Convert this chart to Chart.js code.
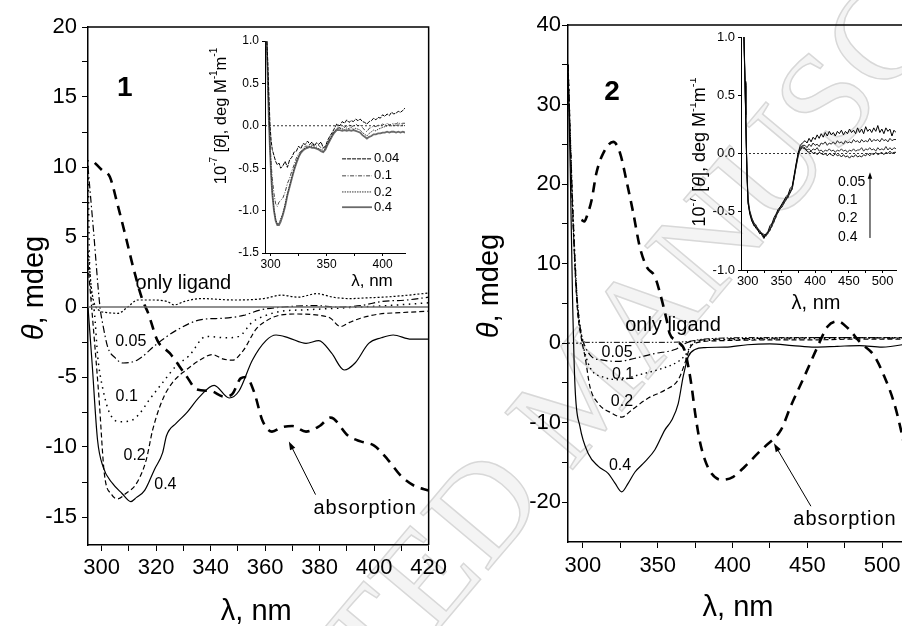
<!DOCTYPE html>
<html lang="en">
<head>
<meta charset="UTF-8">
<title>CD spectra of 1 and 2</title>
<script src="https://cdn.jsdelivr.net/npm/chart.js"></script>
<style>
  html, body { margin: 0; padding: 0; background: #fff; }
  #fig { position: relative; width: 902px; height: 626px; overflow: hidden; background: #fff; }
  #fig canvas { position: absolute; }
  .wm {
    position: absolute; left: 580px; top: 390px;
    font-family: "Liberation Serif", serif; font-size: 135px; white-space: nowrap;
    color: #f4f4f4; -webkit-text-stroke: 1.5px #d8d8d8;
    transform: translate(-50%, -50%) rotate(-50deg);
  }
</style>
</head>
<body>
<div id="fig">
  <div class="wm">ACCEPTED MANUSCRIPT</div>
  <canvas id="main1" width="451" height="626" style="left:0;top:0"></canvas>
  <canvas id="main2" width="466" height="626" style="left:451px;top:0"></canvas>
  <canvas id="ins1" width="230" height="280" style="left:190px;top:20px"></canvas>
  <canvas id="ins2" width="212" height="300" style="left:690px;top:15px"></canvas>
</div>
<script>
// ---------- panel 1 (complex 1) ----------
const p1XTicks = [300, 310, 320, 330, 340, 350, 360, 370, 380, 390, 400, 410, 420];
const p1XLabels = [300, 320, 340, 360, 380, 400, 420];
const p1YTicks = [-15, -12.5, -10, -7.5, -5, -2.5, 0, 2.5, 5, 7.5, 10, 12.5, 15, 17.5, 20];
const p1YLabels = [-15, -10, -5, 0, 5, 10, 15, 20];

const p1AbsX = [297.5, 300, 303, 306, 309, 311.5, 315, 317, 320.5, 325, 331, 335, 340, 345, 348, 351, 353, 356, 359, 362.5, 366, 370, 375, 380, 384, 390.5, 395, 400, 405, 410, 415, 420];
const p1AbsY = [10.3, 9.8, 9.3, 7.2, 4.9, 2.9, 0.5, -0.4, -2.4, -3.3, -4.9, -5.9, -6.0, -6.4, -6.2, -5.1, -5.0, -6.1, -8.1, -8.9, -8.6, -8.5, -8.9, -8.5, -7.9, -9.2, -9.6, -9.9, -10.9, -12.1, -12.8, -13.1];

const p1C04X = [295, 296.5, 298.5, 300.5, 304, 307.4, 310.7, 312.8, 315.8, 319.4, 322.4, 323.8, 327.4, 331, 336, 341.3, 346.8, 350.4, 355.3, 360.3, 364, 368.6, 375, 379.7, 384.4, 389, 393, 398, 402.6, 407, 413.6, 420];
const p1C04Y = [0.0, -4.0, -9.5, -11.4, -12.6, -13.3, -13.9, -13.6, -13.1, -11.6, -10.4, -9.2, -8.3, -7.6, -6.4, -5.6, -6.5, -6.0, -3.8, -2.4, -2.0, -2.2, -2.6, -2.4, -3.3, -4.5, -4.0, -2.6, -2.2, -2.0, -2.3, -2.3];

const p1C02X = [295, 296.5, 299, 301, 303.7, 306, 309, 312.8, 316.4, 318.7, 322.4, 326, 331, 336, 340.6, 344.4, 348, 352, 356.6, 360.3, 365, 372, 380, 384, 387.6, 391, 395, 402, 410, 420];
const p1C02Y = [3.0, -0.4, -6.4, -11.9, -13.4, -13.7, -13.3, -12.6, -10.9, -8.8, -6.6, -5.4, -4.5, -3.8, -3.4, -3.7, -3.8, -3.1, -1.6, -1.0, -0.6, -0.5, -0.6, -0.8, -1.4, -1.1, -0.8, -0.5, -0.4, -0.3];

const p1C01X = [295, 295.6, 297.3, 298.6, 300.5, 303, 306.7, 311, 314, 317.6, 322.4, 327.4, 332, 338.4, 345.7, 350.4, 355.2, 360.3, 366, 375, 385, 395, 405, 420];
const p1C01Y = [10.5, 3.0, -0.3, -3.6, -5.9, -7.6, -8.2, -8.1, -7.6, -6.6, -5.4, -4.2, -3.5, -2.1, -2.2, -2.1, -1.1, -0.6, -0.3, -0.2, -0.1, 0.0, 0.1, 0.3];

const p1C005X = [295, 297, 299.4, 300.5, 302.3, 304.8, 307.8, 313, 320.5, 328, 336.6, 345, 352, 358.5, 366.8, 379, 386, 395, 403, 412, 420];
const p1C005Y = [10.0, 5.5, 0.0, -1.3, -2.9, -3.6, -4.0, -3.8, -2.6, -1.6, -0.9, -0.8, -0.6, -0.2, 0.0, 0.1, 0.0, 0.1, 0.4, 0.5, 0.7];

const p1LigX = [295, 296.5, 298.8, 302, 306, 309.6, 313.2, 318.2, 324, 326.7, 330.4, 336.5, 348.6, 359.5, 366, 372, 379, 385, 391, 397, 403, 410, 420];
const p1LigY = [4.0, 1.0, -0.2, -0.4, -0.45, 0.0, 0.5, 0.5, 0.4, 0.15, 0.4, 0.6, 0.5, 0.6, 0.85, 0.7, 0.95, 0.7, 0.6, 0.65, 0.7, 0.8, 1.0];

const p1ZeroX = [295, 420];
const p1ZeroY = [0, 0];

// ---------- inset of panel 1 ----------
const ins1XTicks = [300, 325, 350, 375, 400];
const ins1XLabels = [300, 350, 400];
const ins1YTicks = [-1.5, -1, -0.5, 0, 0.5, 1];
const ins1Names = ['0.04', '0.1', '0.2', '0.4'];
const ins1X = [296.5, 297.5, 298.5, 299.5, 300.5, 301.5, 303, 304.5, 306, 307.5, 309, 311, 313, 315, 317, 319, 321, 323, 325, 327, 329, 331, 333, 335, 337, 339, 341, 343, 345, 347, 349, 351, 353, 355, 357, 359,
  362, 364, 366, 368, 370, 372, 374, 376, 378, 380, 382, 384, 386, 388, 390, 392, 394, 396, 398, 400, 402, 404, 406, 408, 410, 412, 414, 416, 418, 420];
const ins1Y004 = [1.05, 0.75, 0.35, 0.0, -0.18, -0.28, -0.35, -0.42, -0.46, -0.44, -0.5, -0.47, -0.42, -0.49, -0.4, -0.37, -0.31, -0.3, -0.24, -0.27, -0.21, -0.22, -0.18, -0.22, -0.19, -0.24, -0.2, -0.22, -0.19, -0.26, -0.24, -0.17, -0.12, -0.08, -0.03, 0.02,
  0.0, 0.05, 0.03, 0.07, 0.04, 0.06, 0.05, 0.08, 0.06, 0.08, 0.05, 0.04, 0.02, 0.05, 0.06, 0.09, 0.07, 0.1, 0.09, 0.13, 0.11, 0.14, 0.12, 0.16, 0.14, 0.15, 0.17, 0.16, 0.18, 0.21];
const ins1Y01 = [1.0, 0.6, 0.15, -0.2, -0.45, -0.62, -0.8, -0.92, -0.95, -0.9, -0.88, -0.85, -0.78, -0.68, -0.62, -0.53, -0.46, -0.38, -0.33, -0.3, -0.27, -0.24, -0.24, -0.22, -0.23, -0.22, -0.24, -0.23, -0.26, -0.28, -0.25, -0.2, -0.15, -0.1, -0.06, -0.03,
  -0.02, -0.03, 0.0, -0.02, 0.01, 0.0, -0.01, 0.02, 0.0, 0.01, -0.02, -0.05, -0.07, -0.03, -0.02, 0.0, -0.01, 0.01, 0.0, 0.02, 0.01, 0.03, 0.01, 0.02, 0.03, 0.02, 0.04, 0.02, 0.03, 0.03];
const ins1Y02 = [1.0, 0.55, 0.1, -0.25, -0.55, -0.78, -0.98, -1.1, -1.16, -1.15, -1.1, -1.03, -0.92, -0.8, -0.7, -0.6, -0.51, -0.42, -0.36, -0.31, -0.28, -0.26, -0.25, -0.24, -0.25, -0.25, -0.26, -0.27, -0.28, -0.3, -0.27, -0.21, -0.16, -0.11, -0.07, -0.04,
  -0.03, -0.04, -0.02, -0.04, -0.03, -0.02, -0.04, -0.03, -0.04, -0.05, -0.08, -0.1, -0.12, -0.09, -0.07, -0.05, -0.06, -0.04, -0.03, -0.02, -0.01, 0.0, 0.01, 0.0, 0.01, 0.0, 0.02, 0.0, 0.01, 0.0];
const ins1Y04 = [1.0, 0.5, 0.05, -0.3, -0.58, -0.8, -1.0, -1.12, -1.17, -1.17, -1.13, -1.05, -0.95, -0.82, -0.72, -0.62, -0.52, -0.44, -0.37, -0.32, -0.29, -0.27, -0.26, -0.25, -0.26, -0.26, -0.27, -0.28, -0.3, -0.31, -0.28, -0.22, -0.17, -0.12, -0.08, -0.05,
  -0.05, -0.06, -0.05, -0.06, -0.05, -0.06, -0.05, -0.06, -0.07, -0.08, -0.11, -0.13, -0.15, -0.13, -0.12, -0.1, -0.1, -0.09, -0.09, -0.08, -0.08, -0.07, -0.08, -0.07, -0.07, -0.08, -0.07, -0.08, -0.07, -0.08];

// ---------- panel 2 (complex 2) ----------
const p2XTicks = [300, 325, 350, 375, 400, 425, 450, 475, 500];
const p2XLabels = [300, 350, 400, 450, 500];
const p2YTicks = [-20, -15, -10, -5, 0, 5, 10, 15, 20, 25, 30, 35, 40];
const p2YLabels = [-20, -10, 0, 10, 20, 30, 40];

const p2AbsX = [299, 301, 302.5, 305.8, 309, 313.6, 320.3, 324.8, 329, 333.7, 338, 342.6, 348, 351.5, 356, 358, 362.5, 368, 370.5, 372.7, 375, 378, 381.6, 386, 392.7, 400.5, 408.3, 417.2, 421.7, 432.4, 439, 448, 457, 463.6, 470.3, 477, 485.8, 494.8, 501.5, 508, 512.6, 516];
const p2AbsY = [15.5, 15.3, 15.9, 18.0, 21.4, 23.9, 25.3, 23.9, 20.5, 16.3, 12.1, 9.6, 8.4, 6.3, 2.9, 1.2, 0.3, -0.9, -3.0, -5.5, -8.8, -12.2, -14.7, -16.4, -17.2, -16.8, -15.5, -13.8, -13.0, -10.9, -7.9, -4.2, -0.4, 2.1, 2.75, 1.9, 0.0, -1.6, -4.2, -7.5, -10.9, -14.0];

const p2C04X = [290, 291.5, 293, 294.7, 298, 303.6, 310.3, 317, 321.4, 325.9, 330.3, 334.8, 341.5, 348.1, 354.8, 359.3, 363.7, 367, 370.4, 374.9, 381.6, 395, 410, 425, 440, 455, 470, 485, 500, 520];
const p2C04Y = [35, 22, 6, -5.5, -10.5, -13.9, -15.5, -16.4, -17.6, -18.7, -17.6, -16.2, -14.9, -13.4, -10.9, -9.7, -7.6, -4.2, -1.7, -0.8, -0.55, -0.5, -0.2, -0.1, -0.3, -0.5, -0.4, -0.3, -0.5, 0.0];

const p2C02X = [290, 293, 296, 299, 301.4, 304.7, 310.3, 319.2, 325.9, 332.6, 343.7, 354.8, 363.7, 368.2, 371.5, 377, 390, 420, 450, 480, 520];
const p2C02Y = [35, 17, 5, 0.5, -1.7, -5.5, -7.6, -8.8, -9.3, -8.4, -6.9, -5.9, -4.6, -2.5, -0.6, 0.1, 0.3, 0.4, 0.4, 0.5, 0.5];

const p2C01X = [290, 293, 296, 299, 301.4, 305.8, 312.5, 324.8, 337, 352.6, 363.7, 369.3, 372.7, 380, 420, 460, 520];
const p2C01Y = [35, 18, 6, 1, -1.3, -3.4, -4.2, -4.6, -4.0, -3.2, -2.3, -1.3, -0.1, 0.3, 0.5, 0.6, 0.7];

const p2C005X = [290, 293, 296, 299, 301.4, 305.8, 312.5, 323.6, 334.8, 348, 361.5, 370, 380, 420, 470, 520];
const p2C005Y = [35, 18, 6, 1, -0.4, -1.7, -2.1, -2.3, -1.9, -1.3, -0.8, 0.1, 0.4, 0.6, 0.7, 0.6];

const p2LigX = [290, 293, 296, 299, 302, 320, 350, 370, 380, 420, 460, 520];
const p2LigY = [34, 17, 5, 1, 0.1, 0.1, 0.1, 0.2, 0.5, 0.7, 0.7, 0.7];

const p2ZeroX = [290, 301];
const p2ZeroY = [0, 0];

// ---------- inset of panel 2 ----------
const ins2XTicks = [300, 325, 350, 375, 400, 425, 450, 475, 500];
const ins2XLabels = [300, 350, 400, 450, 500];
const ins2YTicks = [-1, -0.5, 0, 0.5, 1];
const ins2Names = ['0.05', '0.1', '0.2', '0.4'];
const ins2X = [293, 294.5, 296, 297, 298, 299, 300.5, 303, 306, 309, 312, 315, 318, 321, 324, 327, 330, 333, 336, 339, 342, 345, 348, 351, 354, 357, 360, 363, 366, 369, 372, 375, 378, 381,
  385, 388, 391, 394, 397, 400, 403, 406, 409, 412, 415, 418, 421, 424, 427, 430, 433, 436, 439, 442, 445, 448, 451, 454, 457, 460, 463, 466, 469, 472, 475, 478, 481, 484, 487, 490, 493, 496, 499, 502, 505, 508, 511, 514, 517, 520];
const ins2Y005 = [1.3, 1.0, 0.62, 0.33, 0.04, -0.2, -0.42, -0.52, -0.58, -0.61, -0.64, -0.66, -0.69, -0.68, -0.72, -0.69, -0.67, -0.62, -0.6, -0.55, -0.52, -0.48, -0.46, -0.43, -0.4, -0.37, -0.35, -0.3, -0.28, -0.18, -0.08, 0.01, 0.07, 0.09,
  0.11, 0.09, 0.13, 0.1, 0.14, 0.12, 0.16, 0.13, 0.17, 0.14, 0.18, 0.15, 0.19, 0.16, 0.18, 0.15, 0.19, 0.17, 0.2, 0.16, 0.19, 0.17, 0.21, 0.18, 0.2, 0.17, 0.22, 0.18, 0.21, 0.17, 0.23, 0.19, 0.21, 0.18, 0.22, 0.19, 0.24, 0.18, 0.21, 0.17, 0.22, 0.19, 0.21, 0.15, 0.2, 0.18];
const ins2Y01 = [1.25, 0.96, 0.58, 0.3, 0.06, -0.17, -0.39, -0.49, -0.55, -0.6, -0.61, -0.65, -0.66, -0.7, -0.69, -0.71, -0.67, -0.66, -0.61, -0.59, -0.53, -0.51, -0.47, -0.46, -0.42, -0.4, -0.36, -0.34, -0.3, -0.21, -0.1, -0.01, 0.05, 0.07,
  0.07, 0.05, 0.08, 0.06, 0.09, 0.07, 0.08, 0.06, 0.09, 0.08, 0.1, 0.07, 0.09, 0.08, 0.1, 0.08, 0.11, 0.09, 0.1, 0.08, 0.11, 0.09, 0.1, 0.09, 0.12, 0.1, 0.11, 0.09, 0.12, 0.1, 0.11, 0.1, 0.13, 0.1, 0.12, 0.11, 0.12, 0.1, 0.13, 0.11, 0.12, 0.1, 0.13, 0.11, 0.12, 0.12];
const ins2Y02 = [1.2, 0.93, 0.6, 0.31, 0.05, -0.19, -0.41, -0.51, -0.56, -0.59, -0.63, -0.64, -0.68, -0.69, -0.71, -0.7, -0.69, -0.64, -0.63, -0.57, -0.55, -0.49, -0.48, -0.44, -0.43, -0.38, -0.38, -0.32, -0.31, -0.19, -0.11, -0.02, 0.04, 0.06,
  0.05, 0.03, 0.04, 0.02, 0.04, 0.03, 0.05, 0.02, 0.03, 0.01, 0.03, 0.02, 0.04, 0.02, 0.03, 0.01, 0.03, 0.02, 0.04, 0.02, 0.03, 0.01, 0.03, 0.02, 0.04, 0.02, 0.03, 0.03, 0.05, 0.02, 0.04, 0.03, 0.05, 0.03, 0.04, 0.02, 0.05, 0.03, 0.04, 0.03, 0.06, 0.03, 0.05, 0.03, 0.05, 0.04];
const ins2Y04 = [1.3, 0.98, 0.61, 0.34, 0.03, -0.2, -0.43, -0.5, -0.57, -0.62, -0.62, -0.66, -0.67, -0.7, -0.73, -0.7, -0.68, -0.66, -0.6, -0.58, -0.53, -0.5, -0.46, -0.44, -0.41, -0.39, -0.36, -0.33, -0.29, -0.2, -0.09, 0.0, 0.03, 0.05,
  0.04, 0.02, 0.01, 0.02, 0.0, 0.01, -0.01, 0.01, 0.0, -0.01, 0.0, -0.02, 0.0, -0.01, -0.02, 0.0, -0.02, -0.01, -0.03, -0.01, -0.03, -0.02, -0.04, -0.02, -0.03, -0.01, -0.03, -0.02, -0.03, -0.01, -0.02, 0.0, -0.02, 0.0, -0.01, 0.01, -0.01, 0.0, 0.01, -0.01, 0.01, 0.0, 0.02, 0.0, 0.01, 0.01];
const ins2ZeroX = [290, 520];
const ins2ZeroY = [0, 0];

// ---------- helpers ----------
const FONT = '"Liberation Sans", Arial, sans-serif';
Chart.defaults.font.family = FONT;
Chart.defaults.color = '#000';

const pts = (xs, ys) => xs.map((x, i) => ({ x: x, y: ys[i] }));

function curve(xs, ys, style) {
  return Object.assign({
    data: pts(xs, ys), borderColor: '#000', borderWidth: 1.2, borderDash: [],
    pointRadius: 0, fill: false, cubicInterpolationMode: 'monotone'
  }, style);
}

// noisy inset traces: straight segments, no smoothing
function trace(xs, ys, style) {
  return curve(xs, ys, Object.assign({ borderWidth: 1, tension: 0, cubicInterpolationMode: 'default' }, style));
}

function axis(o) {
  return {
    type: 'linear', min: o.min, max: o.max,
    afterBuildTicks: s => { s.ticks = o.ticks.map(v => ({ value: v })); },
    afterFit: s => { if (s.isHorizontal()) s.height = o.size; else s.width = o.size; },
    ticks: {
      autoSkip: false, maxRotation: 0, minRotation: 0, padding: o.pad, color: '#000',
      font: { size: o.font },
      callback: v => (o.labels ? o.labels.includes(v) : true) ? (o.fmt ? o.fmt(v) : String(v)) : ''
    },
    grid: { drawOnChartArea: false, drawTicks: true, tickLength: o.tl, color: '#000', lineWidth: o.tw || 1 },
    border: { display: true, color: '#000', width: o.bw || 1.5 }
  };
}

function base(pad) {
  return {
    responsive: false, animation: false, devicePixelRatio: 1, events: [],
    layout: { autoPadding: false, padding: pad },
    plugins: { legend: { display: false }, tooltip: { enabled: false } }
  };
}

function txt(ctx, s, x, y, font, align) {
  ctx.font = font; ctx.textAlign = align || 'center'; ctx.textBaseline = 'middle';
  ctx.fillText(s, x, y);
}

// text made of several runs (italic theta, superscripts), optionally turned upright
function rich(ctx, parts, x, y, vertical) {
  ctx.save();
  ctx.translate(x, y);
  if (vertical) ctx.rotate(-Math.PI / 2);
  ctx.textBaseline = 'middle'; ctx.textAlign = 'left';
  let w = 0;
  parts.forEach(p => { ctx.font = p.f; w += ctx.measureText(p.t).width; });
  let cx = -w / 2;
  parts.forEach(p => { ctx.font = p.f; ctx.fillText(p.t, cx, p.dy || 0); cx += ctx.measureText(p.t).width; });
  ctx.restore();
}

function insetTitle(size) {
  const f = size + 'px ' + FONT, s = Math.round(size * 0.62) + 'px ' + FONT, up = -size * 0.38;
  return [
    { t: '10', f: f }, { t: '-7', f: s, dy: up }, { t: ' [', f: f }, { t: 'θ', f: 'italic ' + f },
    { t: '], deg M', f: f }, { t: '-1', f: s, dy: up }, { t: 'm', f: f }, { t: '-1', f: s, dy: up }
  ];
}

function arrow(ctx, x1, y1, x2, y2, len) {
  const L = len || 9, W = 0.33, ang = Math.atan2(y2 - y1, x2 - x1);
  ctx.setLineDash([]); ctx.lineWidth = 1; ctx.strokeStyle = '#000'; ctx.fillStyle = '#000';
  ctx.beginPath(); ctx.moveTo(x1, y1); ctx.lineTo(x2 - 3 * Math.cos(ang), y2 - 3 * Math.sin(ang)); ctx.stroke();
  ctx.beginPath(); ctx.moveTo(x2, y2);
  ctx.lineTo(x2 - L * Math.cos(ang - W), y2 - L * Math.sin(ang - W));
  ctx.lineTo(x2 - L * Math.cos(ang + W), y2 - L * Math.sin(ang + W));
  ctx.closePath(); ctx.fill();
}

function frame(ctx, a) {
  ctx.setLineDash([]); ctx.strokeStyle = '#000'; ctx.lineWidth = 1.5;
  ctx.beginPath(); ctx.moveTo(a.left, a.top); ctx.lineTo(a.right, a.top); ctx.lineTo(a.right, a.bottom); ctx.stroke();
}

// ---------- panel 1 ----------
new Chart(document.getElementById('main1'), {
  type: 'line',
  data: { datasets: [
    curve(p1ZeroX, p1ZeroY, { borderColor: '#6b6b6b', borderWidth: 1.6 }),
    curve(p1LigX, p1LigY, { borderDash: [2, 2], borderWidth: 1.2 }),
    curve(p1C005X, p1C005Y, { borderDash: [7, 3, 1.5, 3] }),
    curve(p1C01X, p1C01Y, { borderDash: [1.5, 4.5], borderWidth: 1.5 }),
    curve(p1C02X, p1C02Y, { borderDash: [5, 3] }),
    curve(p1C04X, p1C04Y, {}),
    curve(p1AbsX, p1AbsY, { borderDash: [10, 7], borderWidth: 2.6 })
  ] },
  options: Object.assign(base({ top: 27, right: 19, bottom: 0, left: 0 }), {
    scales: {
      x: axis({ min: 295, max: 420, ticks: p1XTicks, labels: p1XLabels, size: 81, tl: 6, pad: 4, font: 22 }),
      y: axis({ min: -17, max: 20, ticks: p1YTicks, labels: p1YLabels, size: 88, tl: 6, pad: 5, font: 22 })
    }
  }),
  plugins: [{
    id: 'deco1',
    afterDatasetsDraw(chart) {
      const { ctx, chartArea: a, scales: { x, y } } = chart;
      const X = v => x.getPixelForValue(v), Y = v => y.getPixelForValue(v);
      ctx.save();
      frame(ctx, a);
      ctx.fillStyle = '#000';
      txt(ctx, '1', X(308.5), Y(15.6), 'bold 28px ' + FONT);
      txt(ctx, 'only ligand', X(330), Y(1.65), '20px ' + FONT);
      txt(ctx, '0.05', X(310.7), Y(-2.5), '16px ' + FONT);
      txt(ctx, '0.1', X(309.2), Y(-6.4), '16px ' + FONT);
      txt(ctx, '0.2', X(312.1), Y(-10.6), '16px ' + FONT);
      txt(ctx, '0.4', X(323.4), Y(-12.7), '16px ' + FONT);
      ctx.letterSpacing = '1px';
      txt(ctx, 'absorption', X(396.7), Y(-14.4), '20px ' + FONT);
      ctx.letterSpacing = '0px';
      arrow(ctx, X(378.5), Y(-13.4), X(368.7), Y(-9.6));
      rich(ctx, [{ t: 'λ, nm', f: '29px ' + FONT }], (a.left + a.right) / 2 - 2, 612);
      rich(ctx, [{ t: 'θ', f: 'italic 29px ' + FONT }, { t: ', mdeg', f: '29px ' + FONT }], 35, 288, true);
      ctx.restore();
    }
  }]
});

// ---------- inset 1 ----------
new Chart(document.getElementById('ins1'), {
  type: 'line',
  data: { datasets: [
    trace(p1ZeroX, p1ZeroY, { borderDash: [2, 2], borderWidth: 0.8 }),
    trace(ins1X, ins1Y004, { borderDash: [4, 1] }),
    trace(ins1X, ins1Y01, { borderColor: '#444', borderDash: [4, 1.5, 1, 1.5] }),
    trace(ins1X, ins1Y02, { borderColor: '#333', borderDash: [1.5, 1] }),
    trace(ins1X, ins1Y04, { borderColor: '#6a6a6a', borderWidth: 1.8 })
  ] },
  options: Object.assign(base({ top: 21, right: 15, bottom: 0, left: 0 }), {
    scales: {
      x: axis({ min: 295, max: 420, ticks: ins1XTicks, labels: ins1XLabels, size: 47, tl: 3, pad: 1, font: 12, bw: 1 }),
      y: axis({ min: -1.5, max: 1, ticks: ins1YTicks, size: 75, tl: 3, pad: 3, font: 12, bw: 1, fmt: v => v.toFixed(1) })
    }
  }),
  plugins: [{
    id: 'deco3',
    afterDatasetsDraw(chart) {
      const { ctx, scales: { x, y } } = chart;
      const X = v => x.getPixelForValue(v), Y = v => y.getPixelForValue(v);
      const rows = [-0.39, -0.59, -0.78, -0.96];
      ctx.save();
      ctx.fillStyle = '#000';
      ins1Names.forEach((n, i) => {
        const ds = chart.data.datasets[i + 1];
        ctx.strokeStyle = ds.borderColor; ctx.lineWidth = ds.borderWidth; ctx.setLineDash(ds.borderDash);
        ctx.beginPath(); ctx.moveTo(X(363.8), Y(rows[i])); ctx.lineTo(X(390.5), Y(rows[i])); ctx.stroke();
        txt(ctx, n, X(392.3), Y(rows[i]), '13px ' + FONT, 'left');
      });
      ctx.setLineDash([]);
      rich(ctx, [{ t: 'λ, nm', f: '17px ' + FONT }], 182, 261);
      rich(ctx, insetTitle(16.5), 31, 96, true);
      ctx.restore();
    }
  }]
});

// ---------- panel 2 ----------
new Chart(document.getElementById('main2'), {
  type: 'line',
  data: { datasets: [
    curve(p2ZeroX, p2ZeroY, { borderDash: [2, 2], borderWidth: 1 }),
    curve(p2LigX, p2LigY, { borderDash: [6, 2, 1.5, 2, 1.5, 2], borderWidth: 1 }),
    curve(p2C005X, p2C005Y, { borderDash: [7, 3, 1.5, 3] }),
    curve(p2C01X, p2C01Y, { borderDash: [1.5, 3.5], borderWidth: 1.4 }),
    curve(p2C02X, p2C02Y, { borderDash: [5, 3] }),
    curve(p2C04X, p2C04Y, {}),
    curve(p2AbsX, p2AbsY, { borderDash: [10, 7], borderWidth: 2.6 })
  ] },
  options: Object.assign(base({ top: 25, right: 5, bottom: 0, left: 0 }), {
    scales: {
      x: axis({ min: 290, max: 520, ticks: p2XTicks, labels: p2XLabels, size: 84, tl: 6, pad: 5, font: 22 }),
      y: axis({ min: -25, max: 40, ticks: p2YTicks, labels: p2YLabels, size: 117, tl: 6, pad: 1, font: 22 })
    }
  }),
  plugins: [{
    id: 'deco2',
    afterDatasetsDraw(chart) {
      const { ctx, chartArea: a, scales: { x, y } } = chart;
      const X = v => x.getPixelForValue(v), Y = v => y.getPixelForValue(v);
      ctx.save();
      frame(ctx, a);
      ctx.fillStyle = '#000';
      txt(ctx, '2', X(319.4), Y(31.6), 'bold 28px ' + FONT);
      txt(ctx, 'only ligand', X(360.2), Y(2.2), '20px ' + FONT);
      txt(ctx, '0.05', X(322.8), Y(-1.2), '16px ' + FONT);
      txt(ctx, '0.1', X(326.8), Y(-3.9), '16px ' + FONT);
      txt(ctx, '0.2', X(326.1), Y(-7.4), '16px ' + FONT);
      txt(ctx, '0.4', X(324.8), Y(-15.4), '16px ' + FONT);
      ctx.letterSpacing = '1px';
      txt(ctx, 'absorption', X(475.2), Y(-22.2), '20px ' + FONT);
      ctx.letterSpacing = '0px';
      arrow(ctx, X(452.4), Y(-20.5), X(427.7), Y(-12.6));
      rich(ctx, [{ t: 'λ, nm', f: '29px ' + FONT }], 287, 608);
      rich(ctx, [{ t: 'θ', f: 'italic 29px ' + FONT }, { t: ', mdeg', f: '29px ' + FONT }], 39, 286, true);
      ctx.restore();
    }
  }]
});

// ---------- inset 2 ----------
new Chart(document.getElementById('ins2'), {
  type: 'line',
  data: { datasets: [
    trace(ins2ZeroX, ins2ZeroY, { borderDash: [2, 2], borderWidth: 0.8 }),
    trace(ins2X, ins2Y005, {}),
    trace(ins2X, ins2Y01, { borderColor: '#222' }),
    trace(ins2X, ins2Y02, { borderColor: '#333' }),
    trace(ins2X, ins2Y04, { borderColor: '#111' })
  ] },
  options: Object.assign(base({ top: 22, right: 6, bottom: 0, left: 0 }), {
    scales: {
      x: axis({ min: 290, max: 520, ticks: ins2XTicks, labels: ins2XLabels, size: 45, tl: 3, pad: 1, font: 13, bw: 1 }),
      y: axis({ min: -1, max: 1, ticks: ins2YTicks, size: 51, tl: 3, pad: 3, font: 13, bw: 1, fmt: v => v.toFixed(1) })
    }
  }),
  plugins: [{
    id: 'deco4',
    afterDatasetsDraw(chart) {
      const { ctx, scales: { x, y } } = chart;
      const X = v => x.getPixelForValue(v), Y = v => y.getPixelForValue(v);
      const rows = [-0.245, -0.4, -0.554, -0.717];
      ctx.save();
      ctx.fillStyle = '#000';
      ins2Names.forEach((n, i) => txt(ctx, n, X(433.9), Y(rows[i]), '14px ' + FONT, 'left'));
      arrow(ctx, X(481.4), Y(-0.725), X(481.4), Y(-0.16), 7);
      rich(ctx, [{ t: 'λ, nm', f: '20px ' + FONT }], 126, 288);
      rich(ctx, insetTitle(18), 10, 137, true);
      ctx.restore();
    }
  }]
});
</script>
</body>
</html>
